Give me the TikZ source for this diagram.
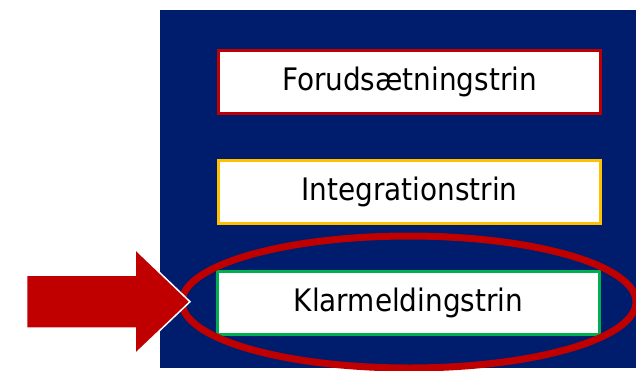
\documentclass[tikz,border=0pt]{standalone}
\usepackage{fontspec}
\setmainfont{DejaVu Sans Condensed}
\definecolor{navy}{RGB}{0,28,108}
\definecolor{darkred}{RGB}{192,0,0}
\definecolor{amber}{RGB}{255,192,0}
\definecolor{okgreen}{RGB}{0,176,80}
\begin{document}
\begin{tikzpicture}[x=1pt,y=-1pt,
  stepbox/.style={draw, line width=3pt, fill=white, minimum width=382pt, minimum height=63pt, inner sep=0pt, font=\fontsize{31}{33}\selectfont, text=black}]
\useasboundingbox (0,0) rectangle (636,370);
\clip (0,0) rectangle (636,370);
\fill[navy] (160,10) rectangle (636,368);
\node[stepbox, draw=darkred] (forud) at (409.5,81.5) {Forudsætningstrin};
\node[stepbox, draw=amber] (integ) at (409.5,191.5) {Integrationstrin};
\node[stepbox, draw=okgreen] (klar) at (408.5,302.5) {Klarmeldingstrin};
\draw[darkred, line width=7pt] (409,302) ellipse [x radius=227pt, y radius=66pt];
\fill[darkred, draw=white, line width=1.5pt] (26.7,275) -- (135,275) -- (135,249) -- (190,301.7) -- (135,354) -- (135,328) -- (26.7,328) -- cycle;
\end{tikzpicture}
\end{document}
